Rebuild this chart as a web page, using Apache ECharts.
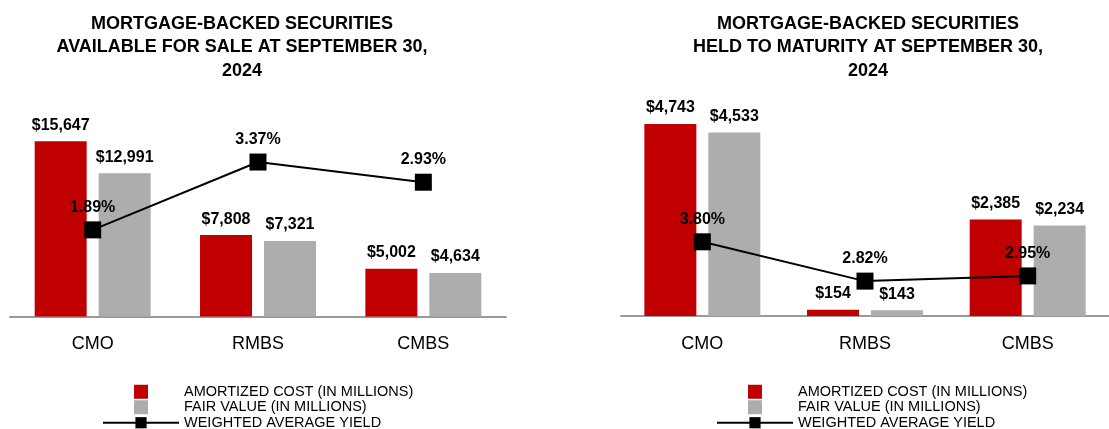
<!DOCTYPE html>
<html>
<head>
<meta charset="utf-8">
<title>Mortgage-backed securities</title>
<script src="https://cdn.jsdelivr.net/npm/echarts@6/dist/echarts.min.js"></script>
<style>
	html, body { margin: 0; padding: 0; background: #fff; }
	#mychart { width: 1109px; height: 429px; }
</style>
</head>
<body>
<div id="mychart"></div>
<script>
	const categories = ['CMO', 'RMBS', 'CMBS']
	// available for sale
	const afsCost = [15647, 7808, 5002]
	const afsFair = [12991, 7321, 4634]
	const afsYield = [1.89, 3.37, 2.93]
	// held to maturity
	const htmCost = [4743, 154, 2385]
	const htmFair = [4533, 143, 2234]
	const htmYield = [3.80, 2.82, 2.95]

	const costName = 'AMORTIZED COST (IN MILLIONS)'
	const fairName = 'FAIR VALUE (IN MILLIONS)'
	const yieldName = 'WEIGHTED AVERAGE YIELD'
	const font = '"Liberation Sans", Arial, sans-serif'
	const red = '#c00000'
	const gray = '#adadad'
	const square = 'path://M0,0H10V10H0Z'

	function money(p) {
		return '$' + p.value.toLocaleString('en-US')
	}
	function pct(p) {
		return p.value.toFixed(2) + '%'
	}
	const barLabel = {
		show: true,
		position: 'top',
		distance: 8,
		formatter: money,
		color: '#000',
		fontFamily: font,
		fontWeight: 'bold',
		fontSize: 16
	}
	const lineLabel = {
		show: true,
		position: 'top',
		distance: 6,
		formatter: pct,
		color: '#000',
		fontFamily: font,
		fontWeight: 'bold',
		fontSize: 16
	}

	function bar(name, data, color, idx) {
		return {
			name: name,
			type: 'bar',
			xAxisIndex: idx,
			yAxisIndex: idx * 2,
			data: data,
			barWidth: 52,
			barGap: '23%',
			itemStyle: { color: color },
			label: barLabel,
			z: 2
		}
	}
	function line(data, idx) {
		return {
			name: yieldName,
			type: 'line',
			xAxisIndex: idx,
			yAxisIndex: idx * 2 + 1,
			data: data,
			symbol: 'rect',
			symbolSize: 17,
			lineStyle: { color: '#000', width: 2 },
			itemStyle: { color: '#000' },
			label: lineLabel,
			z: 5
		}
	}
	function xAxis(idx) {
		return {
			type: 'category',
			gridIndex: idx,
			data: categories,
			axisTick: { show: false },
			axisLine: { lineStyle: { color: '#999', width: 2 } },
			axisLabel: { color: '#000', fontFamily: font, fontSize: 18, margin: 19 }
		}
	}
	function yAxis(idx, min, max) {
		return { type: 'value', gridIndex: idx, min: min, max: max, show: false, splitLine: { show: false } }
	}
	function legend(left) {
		return {
			orient: 'vertical',
			left: left,
			top: 384,
			height: 80,
			padding: 0,
			itemWidth: 76,
			itemHeight: 14,
			itemGap: 0,
			selectedMode: false,
			textStyle: { color: '#000', fontFamily: font, fontSize: 14.5, lineHeight: 15.5 },
			data: [
				{ name: costName, icon: square },
				{ name: fairName, icon: square },
				{ name: yieldName }
			]
		}
	}
	function title(text, left) {
		return {
			text: text,
			left: left,
			top: 12,
			padding: 0,
			textAlign: 'center',
			textStyle: { color: '#000', fontFamily: font, fontWeight: 'bold', fontSize: 18, lineHeight: 23.5 }
		}
	}

	const chart = echarts.init(document.getElementById('mychart'))
	const option = {
		animation: false,
		title: [
			title('MORTGAGE-BACKED SECURITIES\nAVAILABLE FOR SALE AT SEPTEMBER 30,\n2024', 242),
			title('MORTGAGE-BACKED SECURITIES\nHELD TO MATURITY AT SEPTEMBER 30,\n2024', 868)
		],
		legend: [legend(102), legend(716)],
		grid: [
			{ left: 10, right: 603, top: 124, bottom: 112.5 },
			{ left: 621, right: -9.5, top: 113.5, bottom: 113 }
		],
		xAxis: [xAxis(0), xAxis(1)],
		yAxis: [
			yAxis(0, 1000, 17100),
			yAxis(0, 0, 4.2),
			yAxis(1, 0, 5000),
			yAxis(1, 1.95, 7.0)
		],
		series: [
			bar(costName, afsCost, red, 0),
			bar(fairName, afsFair, gray, 0),
			line(afsYield, 0),
			bar(costName, htmCost, red, 1),
			bar(fairName, htmFair, gray, 1),
			line(htmYield, 1)
		]
	}
	chart.setOption(option)
	window.addEventListener('resize', function () {
		chart.resize()
	})
</script>
</body>
</html>
